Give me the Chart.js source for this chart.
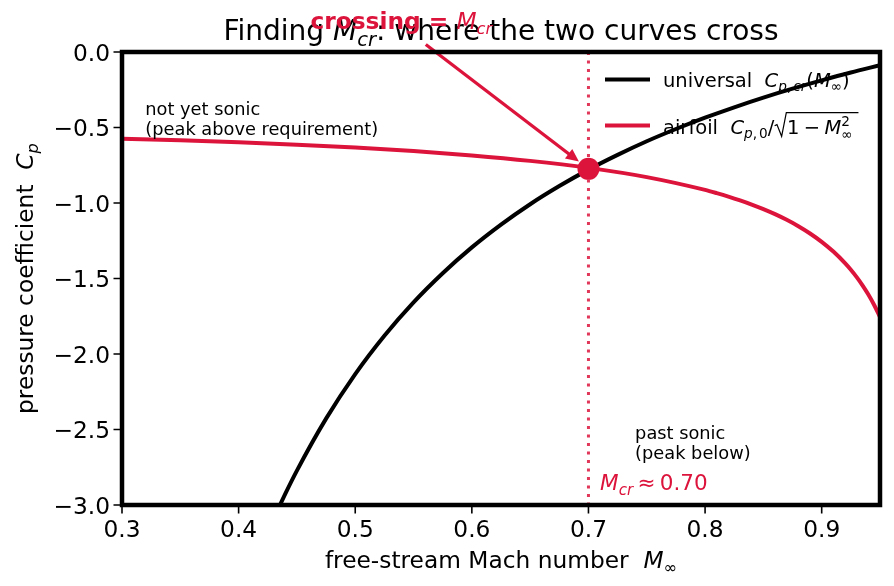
<!DOCTYPE html>
<html><head><meta charset="utf-8">
<script src="https://cdn.jsdelivr.net/npm/chart.js@4"></script>
<style>html,body{margin:0;padding:0;background:#fff;}canvas{display:block;}</style>
</head><body>
<canvas id="c" width="894" height="586" style="width:894px;height:586px"></canvas>
<script>
// ---- data ----
const machUniversal = [0.43,0.44,0.45,0.475,0.5,0.525,0.55,0.575,0.6,0.625,0.65,0.675,0.7,0.725,0.75,0.775,0.8,0.825,0.85,0.875,0.9,0.925,0.95];
const cpUniversal   = [-3.091,-2.926,-2.772,-2.428,-2.133,-1.879,-1.658,-1.465,-1.294,-1.143,-1.008,-0.888,-0.779,-0.681,-0.591,-0.510,-0.435,-0.366,-0.302,-0.243,-0.188,-0.136,-0.088];
const machAirfoil = [0.3,0.35,0.4,0.45,0.5,0.55,0.6,0.65,0.7,0.75,0.8,0.81,0.82,0.83,0.84,0.85,0.86,0.87,0.88,0.89,0.9,0.91,0.92,0.925,0.93,0.935,0.94,0.945,0.95];
const cpAirfoil   = [-0.5745,-0.585,-0.5979,-0.6137,-0.6328,-0.6562,-0.685,-0.7211,-0.7674,-0.8285,-0.9133,-0.9345,-0.9574,-0.9825,-1.0100,-1.0403,-1.0739,-1.1114,-1.1538,-1.2019,-1.2572,-1.3217,-1.3982,-1.4422,-1.4909,-1.5452,-1.6062,-1.6755,-1.755];
const machCritical = 0.70;
const cpCritical = -0.774;
const xTicks = [0.3,0.4,0.5,0.6,0.7,0.8,0.9];
const yTicks = [0.0,-0.5,-1.0,-1.5,-2.0,-2.5,-3.0];
const xRange = [0.3,0.95];
const yRange = [-3.0,0.0];

const CRIMSON = '#DC143C';
const FAM = '"DejaVu Sans"';

function fontOf(base, s){
  const small = (s.sub || s.sup) ? 0.7 : 1;
  return `${s.it?'italic ':''}${s.b?'bold ':''}${base*small}px ${FAM}`;
}
function segW(ctx, s, base){
  if (s.sqrt) return base*0.66 + richWidth(ctx, s.sqrt, base) + base*0.3;
  if (s.stack){
    ctx.font = `${base*0.7}px ${FAM}`;
    return Math.max(ctx.measureText(s.stack[0]).width, ctx.measureText(s.stack[1]).width);
  }
  ctx.font = fontOf(base, s);
  return (s.lp||0)*base + ctx.measureText(s.t).width + (s.pad||0)*base;
}
function richWidth(ctx, segs, base){ let w=0; for (const s of segs) w += segW(ctx, s, base); return w; }
function drawRich(ctx, segs, x, y, base, color){
  let cx = x;
  ctx.fillStyle = color; ctx.strokeStyle = color;
  for (const s of segs){
    if (s.sqrt){
      const inner = richWidth(ctx, s.sqrt, base);
      const w0 = base*0.66;
      ctx.save(); ctx.lineWidth = Math.max(1.2, base*0.06); ctx.lineJoin='miter';
      ctx.beginPath();
      ctx.moveTo(cx+0.02*base, y-0.42*base);
      ctx.lineTo(cx+0.14*base, y-0.48*base);
      ctx.lineTo(cx+0.38*base, y+0.12*base);
      ctx.lineTo(cx+0.62*base, y-1.1*base);
      ctx.lineTo(cx+w0+inner+0.3*base, y-1.1*base);
      ctx.stroke(); ctx.restore();
      drawRich(ctx, s.sqrt, cx+w0, y, base, color);
      cx += w0 + inner + 0.3*base;
      continue;
    }
    if (s.stack){
      ctx.font = `${base*0.7}px ${FAM}`;
      ctx.fillText(s.stack[0], cx, y - 0.42*base);
      ctx.fillText(s.stack[1], cx, y + 0.26*base);
      cx += Math.max(ctx.measureText(s.stack[0]).width, ctx.measureText(s.stack[1]).width);
      continue;
    }
    ctx.font = fontOf(base, s);
    cx += (s.lp||0)*base;
    const dy = s.sub ? 0.22*base : (s.sup ? -0.42*base : 0);
    ctx.fillText(s.t, cx, y + dy);
    cx += ctx.measureText(s.t).width + (s.pad||0)*base;
  }
  return cx - x;
}

const decor = {
  id: 'decor',
  afterDatasetsDraw(chart){
    const {ctx, chartArea: a, scales: {x, y}} = chart;
    ctx.save();
    ctx.textBaseline = 'alphabetic';
    // arrow annotation
    const sx = x.getPixelForValue(0.5605), sy = y.getPixelForValue(0.05);
    const cx0 = x.getPixelForValue(machCritical), cy0 = y.getPixelForValue(cpCritical);
    const dx = cx0 - sx, dyv = cy0 - sy, L = Math.hypot(dx, dyv);
    const ux = dx/L, uy = dyv/L;
    const tx = cx0 - ux*12, ty = cy0 - uy*12;
    ctx.strokeStyle = CRIMSON; ctx.fillStyle = CRIMSON; ctx.lineWidth = 3.3; ctx.lineCap='butt';
    ctx.beginPath(); ctx.moveTo(sx, sy); ctx.lineTo(tx - ux*8, ty - uy*8); ctx.stroke();
    ctx.beginPath();
    ctx.moveTo(tx, ty);
    ctx.lineTo(tx - ux*13 - uy*6, ty - uy*13 + ux*6);
    ctx.lineTo(tx - ux*13 + uy*6, ty - uy*13 - ux*6);
    ctx.closePath(); ctx.fill();

    // spines
    ctx.strokeStyle = '#000'; ctx.lineWidth = 4.5; ctx.lineJoin = 'miter';
    ctx.strokeRect(a.left, a.top, a.right - a.left, a.bottom - a.top);
    // tick marks
    ctx.lineWidth = 1.6;
    ctx.beginPath();
    for (const v of xTicks){ const px = x.getPixelForValue(v); ctx.moveTo(px, a.bottom); ctx.lineTo(px, a.bottom + 8.5); }
    for (const v of yTicks){ const py = y.getPixelForValue(v); ctx.moveTo(a.left - 8.5, py); ctx.lineTo(a.left, py); }
    ctx.stroke();
    // tick labels
    ctx.fillStyle = '#000';
    ctx.font = `23.3px ${FAM}`;
    ctx.textAlign = 'center';
    for (const v of xTicks){ ctx.fillText(v.toFixed(1), x.getPixelForValue(v), 537); }
    ctx.textAlign = 'right';
    for (const v of yTicks){ ctx.fillText(v.toFixed(1).replace('-', '\u2212'), 110, y.getPixelForValue(v) + 8.5); }
    ctx.textAlign = 'left';

    // axis labels
    const xl = [{t:'free-stream Mach number  '},{t:'M',it:1},{t:'\u221E',sub:1}];
    const xw = richWidth(ctx, xl, 23.3);
    drawRich(ctx, xl, (a.left + a.right)/2 - xw/2, 568, 23.3, '#000');
    const yl = [{t:'pressure coefficient  '},{t:'C',it:1},{t:'p',it:1,sub:1}];
    const yw = richWidth(ctx, yl, 23.3);
    ctx.save(); ctx.translate(33, (a.top + a.bottom)/2); ctx.rotate(-Math.PI/2);
    drawRich(ctx, yl, -yw/2, 0, 23.3, '#000');
    ctx.restore();

    // title
    const tl = [{t:'Finding '},{t:'M',it:1},{t:'cr',it:1,sub:1},{t:': where the two curves cross'}];
    const tw = richWidth(ctx, tl, 28);
    drawRich(ctx, tl, (a.left + a.right)/2 - tw/2, 40, 28, '#000');

    // crossing annotation text
    const cl = [{t:'crossing = ',b:1},{t:'M',it:1},{t:'cr',it:1,sub:1}];
    const cw = richWidth(ctx, cl, 23.3);
    drawRich(ctx, cl, x.getPixelForValue(0.5395) - cw/2, 29, 23.3, CRIMSON);

    // region notes
    ctx.font = `17.8px ${FAM}`; ctx.fillStyle = '#000';
    ctx.fillText('not yet sonic', x.getPixelForValue(0.32), 114.5);
    ctx.fillText('(peak above requirement)', x.getPixelForValue(0.32), 135);
    ctx.fillText('past sonic', x.getPixelForValue(0.74), 438.5);
    ctx.fillText('(peak below)', x.getPixelForValue(0.74), 459);
    drawRich(ctx, [{t:'M',it:1},{t:'cr',it:1,sub:1},{t:'\u2248',lp:0.2,pad:0.2},{t:'0.70'}], x.getPixelForValue(0.71), 490, 21.5, CRIMSON);

    // legend
    ctx.lineCap = 'butt';
    ctx.lineWidth = 4;
    ctx.strokeStyle = '#000';
    ctx.beginPath(); ctx.moveTo(605, 79.5); ctx.lineTo(650, 79.5); ctx.stroke();
    ctx.strokeStyle = CRIMSON;
    ctx.beginPath(); ctx.moveTo(605, 125.5); ctx.lineTo(650, 125.5); ctx.stroke();
    drawRich(ctx, [{t:'universal  '},{t:'C',it:1},{t:'p',it:1,sub:1},{t:',',sub:1,pad:0.1},{t:'cr',it:1,sub:1},{t:'('},{t:'M',it:1},{t:'\u221E',sub:1},{t:')'}], 663, 86.5, 19.5, '#000');
    drawRich(ctx, [{t:'airfoil  '},{t:'C',it:1},{t:'p',it:1,sub:1},{t:',',sub:1,pad:0.1},{t:'0',sub:1},{t:'/'},
      {sqrt:[{t:'1'},{t:'\u2212',lp:0.22,pad:0.22},{t:'M',it:1},{stack:['2','\u221E']}]}], 663, 134, 19.5, '#000');
    ctx.restore();
  }
};

const pts = (xs, ys) => xs.map((v, i) => ({x: v, y: ys[i]}));

new Chart(document.getElementById('c').getContext('2d'), {
  type: 'line',
  data: {
    datasets: [
      {label:'crossing', type:'scatter', data:[{x:machCritical, y:cpCritical}], pointRadius:11, pointHoverRadius:11,
       pointBackgroundColor:CRIMSON, pointBorderWidth:0, order:0},
      {label:'airfoil', data: pts(machAirfoil, cpAirfoil), borderColor:CRIMSON, borderWidth:4, pointRadius:0,
       cubicInterpolationMode:'monotone', fill:false, clip:0, order:1},
      {label:'universal', data: pts(machUniversal, cpUniversal), borderColor:'#000', borderWidth:4, pointRadius:0,
       cubicInterpolationMode:'monotone', fill:false, clip:0, order:2},
      {label:'Mcr line', data:[{x:machCritical, y:yRange[1]}, {x:machCritical, y:yRange[0]}], borderColor:'rgba(220,20,60,0.85)',
       borderWidth:3, borderDash:[3,5.5], pointRadius:0, fill:false, clip:0, order:3}
    ]
  },
  options: {
    responsive:false, animation:false, devicePixelRatio:1,
    layout:{padding:{top:52, right:14, left:0, bottom:0}},
    plugins:{legend:{display:false}, title:{display:false}, tooltip:{enabled:false}},
    scales:{
      x:{type:'linear', min:xRange[0], max:xRange[1], ticks:{display:false}, grid:{display:false}, border:{display:false},
         afterFit(s){ s.height = 81; }},
      y:{type:'linear', min:yRange[0], max:yRange[1], ticks:{display:false}, grid:{display:false}, border:{display:false},
         afterFit(s){ s.width = 122; }}
    }
  },
  plugins:[decor]
});
</script>
</body></html>
